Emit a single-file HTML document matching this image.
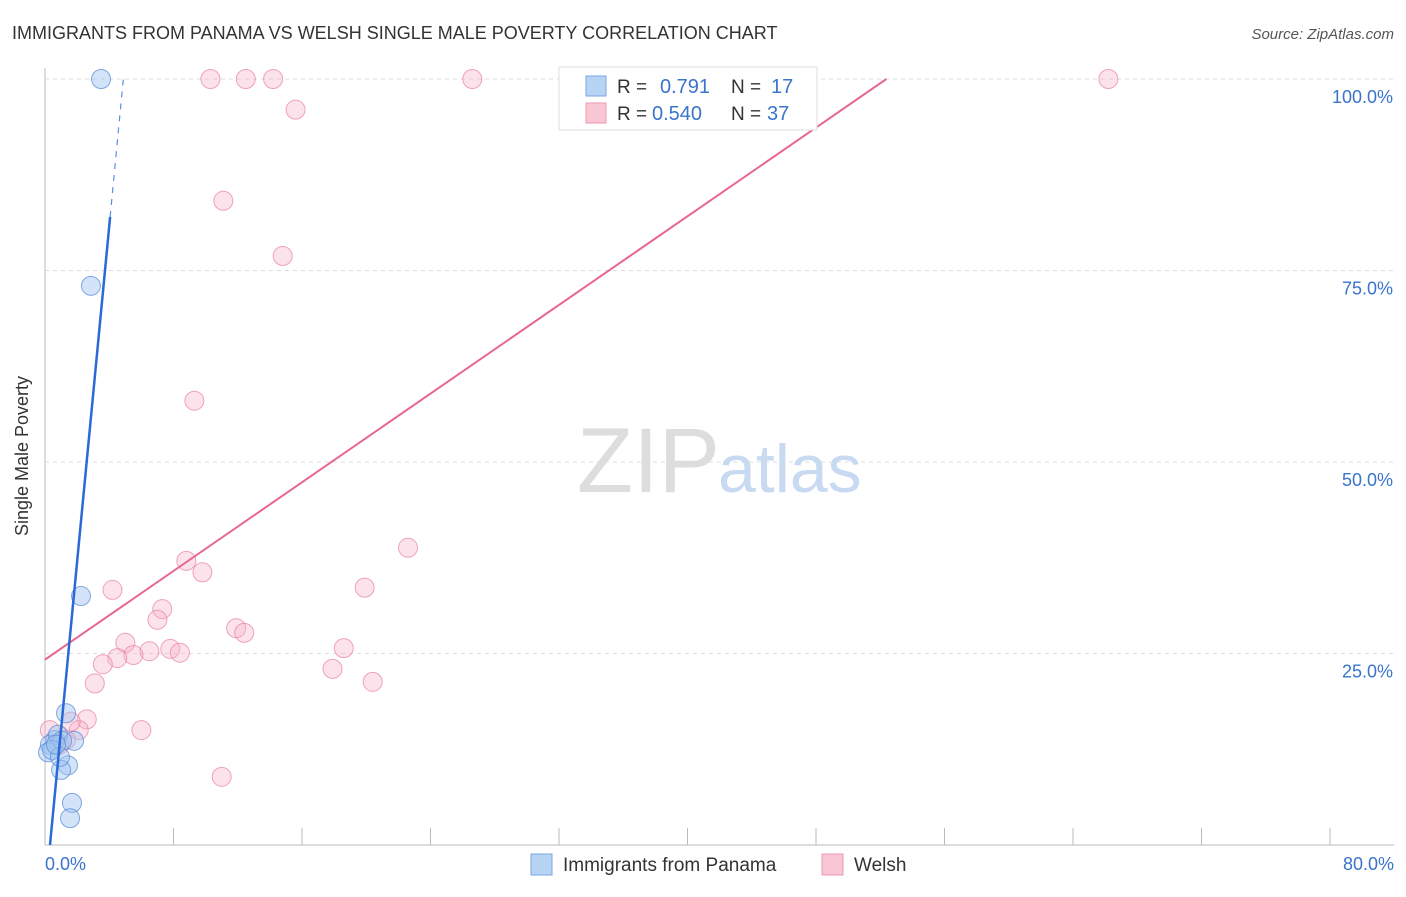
<!DOCTYPE html>
<html><head><meta charset="utf-8"><style>
body{margin:0;background:#fff;font-family:"Liberation Sans",sans-serif;}
svg text{font-family:"Liberation Sans",sans-serif;}
</style></head><body>
<svg width="1406" height="892" xmlns="http://www.w3.org/2000/svg">
<text x="12" y="39" font-size="18" fill="#333">IMMIGRANTS FROM PANAMA VS WELSH SINGLE MALE POVERTY CORRELATION CHART</text>
<text x="1394" y="39" font-size="15" fill="#555" font-style="italic" text-anchor="end">Source: ZipAtlas.com</text>
<g id="grid"></g>
<text x="720" y="492" font-size="92" fill="#ddd" font-family="Liberation Serif" text-anchor="end">ZIP</text>
<text x="718" y="492" font-size="68" fill="#c8daf2">atlas</text>
<text x="28" y="456" font-size="18" fill="#333" text-anchor="middle" transform="rotate(-90 28 456)">Single Male Poverty</text>
<g id="marks"></g>
<g>
<rect x="559" y="67" width="258" height="63" fill="#fff" stroke="#ddd"/>
<rect x="586" y="76" width="20" height="20" fill="#b8d4f4" stroke="#7aa6e0"/>
<rect x="586" y="103" width="20" height="20" fill="#f9c6d4" stroke="#ee9ab2"/>
<text x="617" y="93" font-size="19" fill="#333">R =</text>
<text x="660" y="93" font-size="20" fill="#3a74cc">0.791</text>
<text x="731" y="93" font-size="19" fill="#333">N =</text>
<text x="771" y="93" font-size="20" fill="#3a74cc">17</text>
<text x="617" y="120" font-size="19" fill="#333">R =</text>
<text x="652" y="120" font-size="20" fill="#3a74cc">0.540</text>
<text x="731" y="120" font-size="19" fill="#333">N =</text>
<text x="767" y="120" font-size="20" fill="#3a74cc">37</text>
</g>
<g>
<rect x="531" y="854" width="21" height="21" fill="#b8d4f4" stroke="#7aa6e0"/>
<text x="563" y="871" font-size="19" fill="#333">Immigrants from Panama</text>
<rect x="822" y="854" width="21" height="21" fill="#f9c6d4" stroke="#ee9ab2"/>
<text x="854" y="871" font-size="19" fill="#333">Welsh</text>
</g>
</svg>
<script>
const xTicks=[0,8,16,24,32,40,48,56,64,72,80];
const yTicks=[25,50,75,100];
const blueX=[3.49,2.86,2.24,1.31,1.43,1.0,1.68,1.56,0.62,0.31,0.19,0.81,1.81,1.06,0.44,0.93,0.68];
const blueY=[100,73.0,32.5,17.2,10.4,9.8,5.5,3.5,13.7,13.1,12.1,14.4,13.6,13.6,12.4,11.5,13.1];
const pinkX=[10.3,12.5,14.2,26.6,66.2,15.6,11.1,14.8,9.3,22.6,8.8,9.8,19.9,4.2,7.3,7.0,11.9,12.4,5.0,18.6,6.5,7.8,8.4,5.5,4.5,3.6,17.9,3.1,20.4,2.6,6.0,2.1,1.6,11.0,0.3,0.9,1.3];
const pinkY=[100,100,100,100,100,96.0,84.1,76.9,58.0,38.8,37.1,35.6,33.6,33.3,30.8,29.4,28.3,27.7,26.4,25.7,25.3,25.6,25.1,24.8,24.4,23.6,23.0,21.1,21.3,16.4,15.0,15.0,16.1,8.9,15.0,13.1,13.7];
const blueLine=[-6.8,21.9]; // intercept, slope
const pinkLine=[24.2,1.447];
const NS="http://www.w3.org/2000/svg";
const X=v=>45+v/80*1285, Y=v=>845-v/100*766;
function mk(t,a,p){const e=document.createElementNS(NS,t);for(const k in a)e.setAttribute(k,a[k]);p.appendChild(e);return e;}
const g=document.getElementById('grid'), m=document.getElementById('marks');
mk('line',{x1:45,y1:68,x2:45,y2:845,stroke:'#bbb'},g);
mk('line',{x1:45,y1:845,x2:1394,y2:845,stroke:'#bbb'},g);
yTicks.forEach(t=>{
 const l=mk('line',{x1:45,y1:Y(t),x2:1394,y2:Y(t),stroke:'#ddd','stroke-dasharray':'4,4'},g);
 
 
 const tx=mk('text',{x:1393,y:Y(t)+24,'font-size':18,fill:'#3a74cc','text-anchor':'end'},g);
 tx.textContent=t.toFixed(1)+'%';
 
 
});
xTicks.forEach((t,i)=>{
 if(i>0){const l=mk('line',{x1:X(t),y1:828,x2:X(t),y2:845,stroke:'#bbb'},g);
 
 }
});
[[0,'start',45],[80,'end',1394]].forEach(([v,a,x])=>{
 const tx=mk('text',{x:x,y:870,'font-size':18,fill:'#3a74cc','text-anchor':a},g);
 tx.textContent=v.toFixed(1)+'%';
 
 
});
pinkX.forEach((x,i)=>{
 const c=mk('circle',{cx:X(x),cy:Y(pinkY[i]),r:9.5,fill:'rgba(247,176,198,0.35)',stroke:'rgba(232,128,160,0.7)','stroke-width':1},m);
 
 
});
blueX.forEach((x,i)=>{
 const c=mk('circle',{cx:X(x),cy:Y(blueY[i]),r:9.5,fill:'rgba(160,196,240,0.45)',stroke:'rgba(90,140,215,0.75)','stroke-width':1},m);
 
 
});
// pink trend
const px1=0, px2=(100-pinkLine[0])/pinkLine[1];
const pl=mk('line',{x1:X(px1),y1:Y(pinkLine[0]),x2:X(px2),y2:Y(100),stroke:'#e8678f','stroke-width':2},m);


// blue trend
const bx0=-blueLine[0]/blueLine[1], bx1=(82-blueLine[0])/blueLine[1], bx2=(100-blueLine[0])/blueLine[1];
const bl=mk('line',{x1:X(bx0),y1:Y(0),x2:X(bx1),y2:Y(82),stroke:'#2a6ad6','stroke-width':2.5},m);


const bd=mk('line',{x1:X(bx1),y1:Y(82),x2:X(bx2),y2:Y(100),stroke:'#5a8ee0','stroke-width':1.2,'stroke-dasharray':'6,6'},m);


</script>
</body></html>
